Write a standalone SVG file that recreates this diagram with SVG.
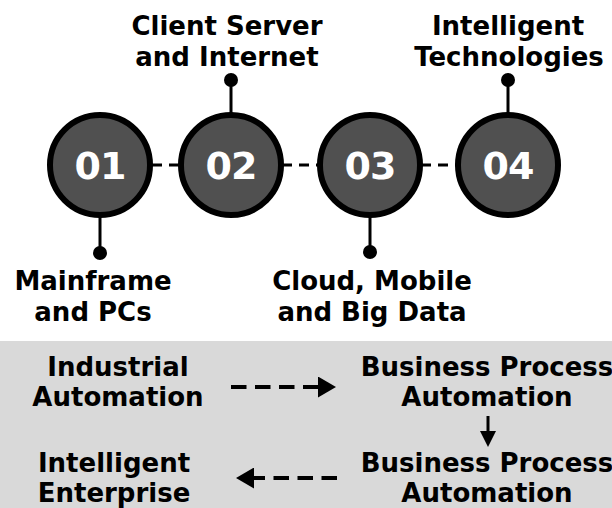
<svg xmlns="http://www.w3.org/2000/svg" width="612" height="508" viewBox="0 0 612 508">
  <style>
    .lbl { font-family: "DejaVu Sans", "Liberation Sans", sans-serif; font-weight: 700; font-size: 26px; fill: #000; text-anchor: middle; }
    .num { font-family: "DejaVu Sans", "Liberation Sans", sans-serif; font-weight: 700; font-size: 38px; letter-spacing: -1px; fill: #fff; text-anchor: middle; }
    .ring { fill: #505050; stroke: #000; stroke-width: 6; }
    .pin { stroke: #000; stroke-width: 3; fill: none; }
    .dot { fill: #000; }
    .link { stroke: #000; stroke-width: 3; stroke-dasharray: 10 7; fill: none; }
    .flow { stroke: #000; stroke-width: 4; stroke-dasharray: 15.5 8.5; fill: none; }
  </style>
  <defs>
    <marker id="head" viewBox="0 0 18 21" markerWidth="18" markerHeight="21" refX="2" refY="10.5" orient="auto" markerUnits="userSpaceOnUse">
      <path d="M0,0 L18,10.5 L0,21 z" fill="#000"/>
    </marker>
    <marker id="headS" viewBox="0 0 16 16" markerWidth="16" markerHeight="16" refX="1" refY="8" orient="auto" markerUnits="userSpaceOnUse">
      <path d="M0,0 L16,8 L0,16 z" fill="#000"/>
    </marker>
  </defs>

  <rect x="0" y="341" width="612" height="167" fill="#d9d9d9"/>

  <g id="connectors">
    <line class="link" x1="152" y1="165" x2="180" y2="165"/>
    <line class="link" x1="282" y1="165" x2="319" y2="165"/>
    <line class="link" x1="421" y1="165" x2="457" y2="165"/>
    <line class="pin" x1="100" y1="217" x2="100" y2="253"/>
    <line class="pin" x1="231" y1="113" x2="231" y2="80"/>
    <line class="pin" x1="370" y1="217" x2="370" y2="252"/>
    <line class="pin" x1="508" y1="113" x2="508" y2="80"/>
    <circle class="dot" cx="100" cy="253" r="7"/>
    <circle class="dot" cx="231" cy="80" r="7"/>
    <circle class="dot" cx="370" cy="252" r="7"/>
    <circle class="dot" cx="508" cy="80" r="7"/>
    <line class="flow" x1="231" y1="387" x2="320" y2="387" marker-end="url(#head)"/>
    <line class="flow" x1="337" y1="478" x2="252" y2="478" marker-end="url(#head)"/>
    <line class="pin" x1="488" y1="416" x2="488" y2="432" marker-end="url(#headS)"/>
  </g>

  <g id="step-01">
    <circle class="ring" cx="100" cy="165" r="50"/>
    <text class="num" x="100" y="179">01</text>
  </g>
  <g id="step-02">
    <circle class="ring" cx="231" cy="165" r="50"/>
    <text class="num" x="231" y="179">02</text>
  </g>
  <g id="step-03">
    <circle class="ring" cx="370" cy="165" r="50"/>
    <text class="num" x="370" y="179">03</text>
  </g>
  <g id="step-04">
    <circle class="ring" cx="508" cy="165" r="50"/>
    <text class="num" x="508" y="179">04</text>
  </g>

  <g id="label-01">
    <text class="lbl" x="93" y="290">Mainframe</text>
    <text class="lbl" x="93" y="321">and PCs</text>
  </g>
  <g id="label-02">
    <text class="lbl" x="227" y="35">Client Server</text>
    <text class="lbl" x="227" y="66">and Internet</text>
  </g>
  <g id="label-03">
    <text class="lbl" x="372" y="290">Cloud, Mobile</text>
    <text class="lbl" x="372" y="321">and Big Data</text>
  </g>
  <g id="label-04">
    <text class="lbl" x="508" y="35">Intelligent</text>
    <text class="lbl" x="509" y="66">Technologies</text>
  </g>

  <g id="industrial-automation">
    <text class="lbl" x="118" y="376">Industrial</text>
    <text class="lbl" x="118" y="406">Automation</text>
  </g>
  <g id="bpa-1">
    <text class="lbl" x="487" y="376">Business Process</text>
    <text class="lbl" x="487" y="406">Automation</text>
  </g>
  <g id="bpa-2">
    <text class="lbl" x="487" y="472">Business Process</text>
    <text class="lbl" x="487" y="502">Automation</text>
  </g>
  <g id="intelligent-enterprise">
    <text class="lbl" x="114" y="472">Intelligent</text>
    <text class="lbl" x="114" y="502">Enterprise</text>
  </g>
</svg>
